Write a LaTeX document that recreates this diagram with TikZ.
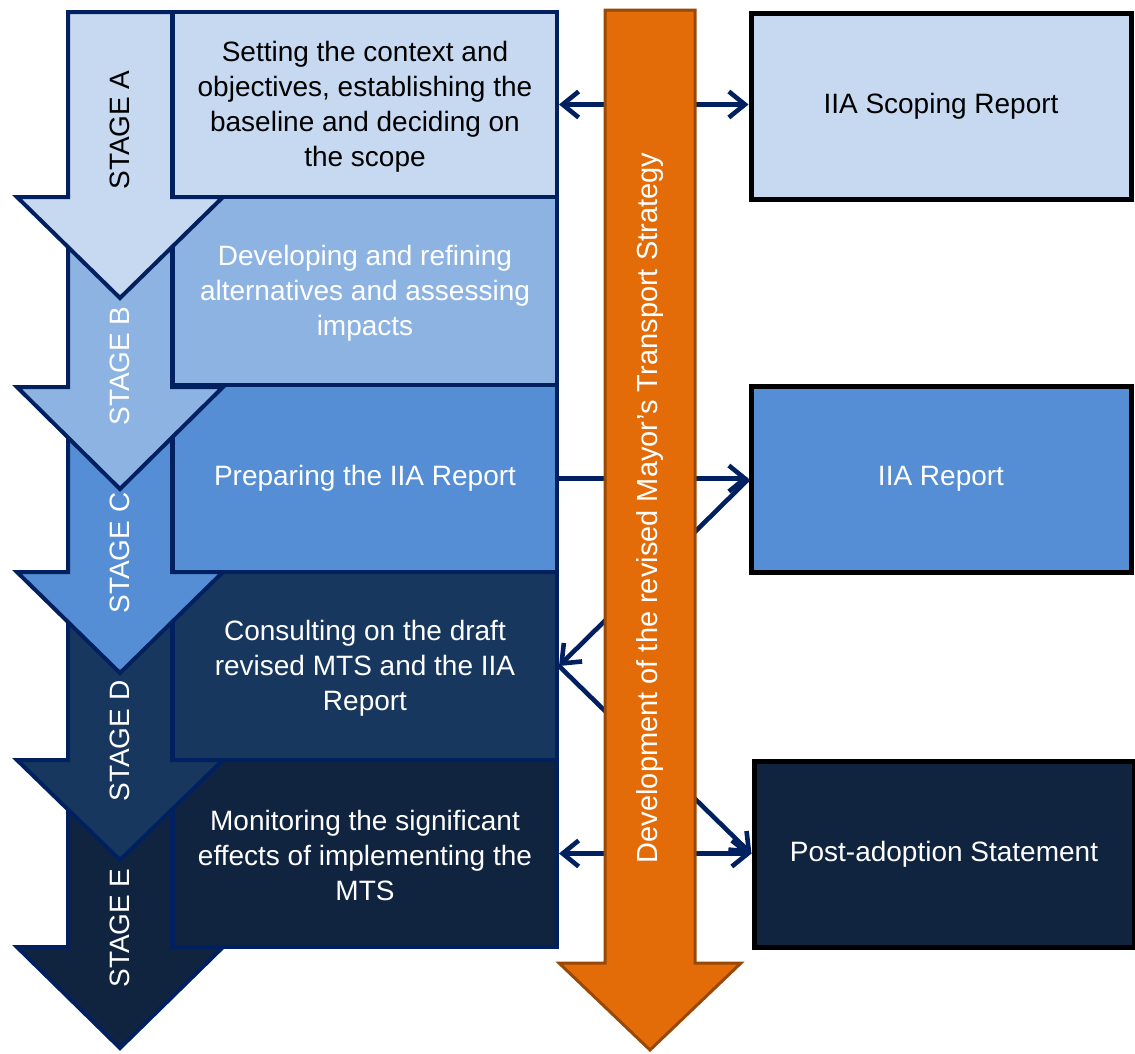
\documentclass[tikz,border=0pt]{standalone}
\usepackage{fontspec}
\setmainfont{Liberation Sans}
\usetikzlibrary{arrows.meta}
\definecolor{navy}{RGB}{0,32,96}
\definecolor{fillA}{HTML}{C6D9F1}
\definecolor{fillB}{HTML}{8DB3E2}
\definecolor{fillC}{HTML}{558ED5}
\definecolor{fillD}{HTML}{17375E}
\definecolor{fillE}{HTML}{10243F}
\definecolor{orangefill}{HTML}{E36C09}
\definecolor{orangeline}{HTML}{984807}
\tikzset{
  stagebox/.style={draw=navy, line width=4pt, minimum width=384pt, inner sep=0pt, align=center,
    font=\fontsize{28}{35}\selectfont},
  stagearrow/.style={draw=navy, line width=4pt, line join=miter},
  stagelabel/.style={rotate=90, inner sep=0pt, font=\fontsize{28}{34}\selectfont},
  outbox/.style={draw=black, line width=5pt, minimum width=380pt, minimum height=186pt, inner sep=0pt,
    align=center, font=\fontsize{28}{35}\selectfont},
  conn/.style={draw=navy, line width=4.6pt},
  tipstyle/.style={arrows={-{Straight Barb[length=16pt,width=26pt]}}},
  bothtips/.style={arrows={{Straight Barb[length=16pt,width=26pt]}-{Straight Barb[length=16pt,width=26pt]}}}
}
\begin{document}
\begin{tikzpicture}[x=1pt,y=-1pt]
\useasboundingbox (0,0) rectangle (1135,1053);

% ---- Stage E
\draw[stagearrow, fill=fillE] (68,760) -- (172,760) -- (172,947) -- (223,947) -- (120,1048) -- (17,947) -- (68,947) -- cycle;
\node[stagebox, fill=fillE, text=white, minimum height=187pt] (boxE) at (365,853.5)
  {\strut Monitoring the significant\\effects of implementing the\\MTS};
\node[stagelabel, text=white] (labE) at (120,928) {STAGE E};

% ---- Stage D
\draw[stagearrow, fill=fillD] (68,572) -- (172,572) -- (172,760) -- (223,760) -- (120,860) -- (17,760) -- (68,760) -- cycle;
\node[stagebox, fill=fillD, text=white, minimum height=188pt] (boxD) at (365,666)
  {\strut Consulting on the draft\\revised MTS and the IIA\\Report};
\node[stagelabel, text=white] (labD) at (120,741) {STAGE D};

% ---- Stage C
\draw[stagearrow, fill=fillC] (68,385) -- (172,385) -- (172,572) -- (223,572) -- (120,673) -- (17,572) -- (68,572) -- cycle;
\node[stagebox, fill=fillC, text=white, minimum height=187pt] (boxC) at (365,478.5)
  {Preparing the IIA Report};
\node[stagelabel, text=white] (labC) at (120,553) {STAGE C};

% ---- Stage B
\draw[stagearrow, fill=fillB] (68,197) -- (172,197) -- (172,387) -- (223,387) -- (120,489) -- (17,387) -- (68,387) -- cycle;
\node[stagebox, fill=fillB, text=white, minimum height=188pt] (boxB) at (365,291)
  {\strut Developing and refining\\alternatives and assessing\\impacts};
\node[stagelabel, text=white] (labB) at (120,366) {STAGE B};

% ---- Stage A
\draw[stagearrow, fill=fillA] (68,12) -- (172,12) -- (172,197) -- (223,197) -- (120,298) -- (17,197) -- (68,197) -- cycle;
\node[stagebox, fill=fillA, text=black, minimum height=185pt] (boxA) at (365,104.5)
  {\strut Setting the context and\\objectives, establishing the\\baseline and deciding on\\the scope};
\node[stagelabel, text=black] (labA) at (120,130) {STAGE A};

% ---- Output boxes
\node[outbox, fill=fillA, text=black] (scope) at (941,106) {IIA Scoping Report};
\node[outbox, fill=fillC, text=white] (iia) at (941,479) {IIA Report};
\node[outbox, fill=fillE, text=white] (post) at (944,854) {Post-adoption Statement};

% ---- Connectors
\draw[conn, bothtips] (boxA.east) -- (boxA.east -| scope.west);
\draw[conn, tipstyle] (boxC.east) -- (boxC.east -| iia.west);
\draw[conn, tipstyle] (iia.west) -- (boxD.east);
\draw[conn, tipstyle] (boxD.east) -- (post.west);
\draw[conn, bothtips] (boxE.east) -- (boxE.east -| post.west);

% ---- Orange development arrow
\draw[draw=orangeline, fill=orangefill, line width=3pt, line join=miter]
  (605,10) -- (695,10) -- (695,963) -- (741,963) -- (650,1050) -- (559,963) -- (605,963) -- cycle;
\node[rotate=90, text=white, inner sep=0pt, font=\fontsize{29}{34}\selectfont] (mts) at (650,508)
  {Development of the revised Mayor’s Transport Strategy};
\end{tikzpicture}
\end{document}
